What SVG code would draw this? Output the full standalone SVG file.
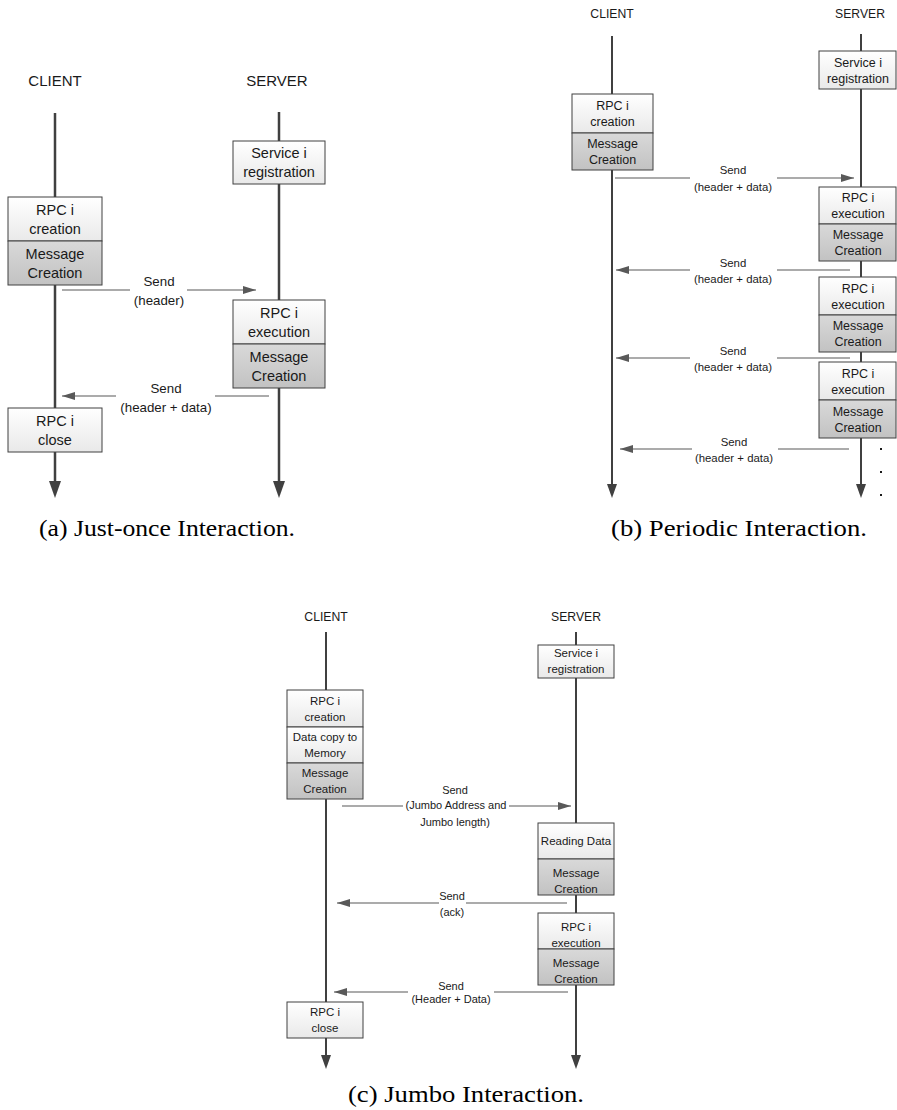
<svg xmlns="http://www.w3.org/2000/svg" width="897" height="1110" viewBox="0 0 897 1110">
<style>
text{font-family:"Liberation Sans",Arial,sans-serif;fill:#1a1a1a;text-anchor:middle}
.hd{font-size:15px}
.hd2{font-size:12.2px}
.ta{font-size:14.5px}
.tb{font-size:12.5px}
.tc{font-size:11.5px}
.la{font-size:13.3px}
.lb{font-size:11.4px}
.lc{font-size:11px}
.cap{font-family:"Liberation Serif","Times New Roman",serif;font-size:24px;fill:#000}
.box{fill:url(#gw);stroke:#404040;stroke-width:1}
.mbox{fill:url(#gg);stroke:#404040;stroke-width:1}
.life{stroke:#404040;stroke-width:2.5;fill:none}
.life2{stroke:#404040;stroke-width:2;fill:none}
.head{fill:#404040}
.msg{stroke:#595959;stroke-width:1.2;fill:none}
.msgh{stroke:#595959;stroke-width:1.2;fill:none;marker-end:url(#ah)}
</style>
<defs>
<linearGradient id="gw" x1="0" y1="0" x2="0" y2="1">
<stop offset="0" stop-color="#ffffff"/>
<stop offset="1" stop-color="#e9e9e9"/>
</linearGradient>
<linearGradient id="gg" x1="0" y1="0" x2="0" y2="1">
<stop offset="0" stop-color="#d9d9d9"/>
<stop offset="1" stop-color="#c2c2c2"/>
</linearGradient>
<marker id="ah" markerUnits="userSpaceOnUse" markerWidth="14" markerHeight="10" refX="13" refY="5" orient="auto">
<path d="M0,1 L13,5 L0,9 Z" fill="#595959"/>
</marker>
</defs>

<!-- ========== Panel (a) ========== -->
<g id="a-client-label"><text class="hd" x="55" y="86">CLIENT</text></g>
<g id="a-server-label"><text class="hd" x="277" y="86">SERVER</text></g>

<g id="a-connectors">
<line class="life" x1="55" y1="113" x2="55" y2="482"/>
<polygon class="head" points="49,481 61,481 55,498"/>
<line class="life" x1="279" y1="112" x2="279" y2="482"/>
<polygon class="head" points="273,481 285,481 279,498"/>
<line class="msg" x1="62" y1="290" x2="130" y2="290"/>
<line class="msgh" x1="187" y1="290" x2="256" y2="290"/>
<line class="msg" x1="269" y1="396" x2="215" y2="396"/>
<line class="msgh" x1="116" y1="396" x2="62" y2="396"/>
<text class="la" x="159" y="286">Send</text>
<text class="la" x="159" y="305">(header)</text>
<text class="la" x="166" y="393">Send</text>
<text class="la" x="166" y="412">(header + data)</text>
</g>

<g id="a-service">
<rect class="box" x="233" y="141" width="92" height="43"/>
<text class="ta" x="279" y="158">Service i</text>
<text class="ta" x="279" y="177">registration</text>
</g>
<g id="a-rpc-creation">
<rect class="box" x="8" y="197" width="94" height="44"/>
<text class="ta" x="55" y="214.5">RPC i</text>
<text class="ta" x="55" y="233.5">creation</text>
</g>
<g id="a-client-msg">
<rect class="mbox" x="8" y="241" width="94" height="44"/>
<text class="ta" x="55" y="258.5">Message</text>
<text class="ta" x="55" y="277.5">Creation</text>
</g>
<g id="a-rpc-exec">
<rect class="box" x="233" y="300" width="92" height="44"/>
<text class="ta" x="279" y="317.5">RPC i</text>
<text class="ta" x="279" y="336.5">execution</text>
</g>
<g id="a-server-msg">
<rect class="mbox" x="233" y="344" width="92" height="44"/>
<text class="ta" x="279" y="361.5">Message</text>
<text class="ta" x="279" y="380.5">Creation</text>
</g>
<g id="a-rpc-close">
<rect class="box" x="8" y="408" width="94" height="44"/>
<text class="ta" x="55" y="425.5">RPC i</text>
<text class="ta" x="55" y="444.5">close</text>
</g>
<g id="a-caption"><text class="cap" x="167" y="536" textLength="256" lengthAdjust="spacingAndGlyphs">(a) Just-once Interaction.</text></g>

<!-- ========== Panel (b) ========== -->
<g id="b-client-label"><text class="hd2" x="612" y="18">CLIENT</text></g>
<g id="b-server-label"><text class="hd2" x="860" y="18">SERVER</text></g>

<g id="b-connectors">
<line class="life2" x1="612" y1="36" x2="612" y2="485"/>
<polygon class="head" points="607,484 617,484 612,498"/>
<line class="life2" x1="861" y1="34" x2="861" y2="485"/>
<polygon class="head" points="856,484 866,484 861,498"/>
<line class="msg" x1="615" y1="178" x2="690" y2="178"/>
<line class="msgh" x1="777" y1="178" x2="854" y2="178"/>
<line class="msg" x1="850" y1="270" x2="777" y2="270"/>
<line class="msgh" x1="690" y1="270" x2="616" y2="270"/>
<line class="msg" x1="850" y1="358" x2="777" y2="358"/>
<line class="msgh" x1="690" y1="358" x2="616" y2="358"/>
<line class="msg" x1="849" y1="449" x2="778" y2="449"/>
<line class="msgh" x1="692" y1="449" x2="620" y2="449"/>
<text class="lb" x="733" y="174">Send</text>
<text class="lb" x="733" y="191">(header + data)</text>
<text class="lb" x="733" y="267">Send</text>
<text class="lb" x="733" y="283">(header + data)</text>
<text class="lb" x="733" y="355">Send</text>
<text class="lb" x="733" y="371">(header + data)</text>
<text class="lb" x="734" y="446">Send</text>
<text class="lb" x="734" y="462">(header + data)</text>
</g>

<g id="b-service">
<rect class="box" x="819" y="51" width="77" height="38"/>
<text class="tb" x="858" y="66.5">Service i</text>
<text class="tb" x="858" y="82.5">registration</text>
</g>
<g id="b-rpc-creation">
<rect class="box" x="572" y="94" width="81" height="39"/>
<text class="tb" x="612.5" y="110">RPC i</text>
<text class="tb" x="612.5" y="126">creation</text>
</g>
<g id="b-client-msg">
<rect class="mbox" x="572" y="133" width="81" height="37"/>
<text class="tb" x="612.5" y="148">Message</text>
<text class="tb" x="612.5" y="164">Creation</text>
</g>
<g id="b-exec-1">
<rect class="box" x="819" y="187" width="77" height="37"/>
<text class="tb" x="858" y="202">RPC i</text>
<text class="tb" x="858" y="218">execution</text>
</g>
<g id="b-msg-1">
<rect class="mbox" x="819" y="224" width="77" height="37"/>
<text class="tb" x="858" y="239">Message</text>
<text class="tb" x="858" y="255">Creation</text>
</g>
<g id="b-exec-2">
<rect class="box" x="819" y="277" width="77" height="38"/>
<text class="tb" x="858" y="292.5">RPC i</text>
<text class="tb" x="858" y="308.5">execution</text>
</g>
<g id="b-msg-2">
<rect class="mbox" x="819" y="315" width="77" height="37"/>
<text class="tb" x="858" y="330">Message</text>
<text class="tb" x="858" y="346">Creation</text>
</g>
<g id="b-exec-3">
<rect class="box" x="819" y="362" width="77" height="38"/>
<text class="tb" x="858" y="377.5">RPC i</text>
<text class="tb" x="858" y="393.5">execution</text>
</g>
<g id="b-msg-3">
<rect class="mbox" x="819" y="400" width="77" height="38"/>
<text class="tb" x="858" y="415.5">Message</text>
<text class="tb" x="858" y="431.5">Creation</text>
</g>
<g id="b-dots">
<rect x="880" y="448" width="2" height="2" fill="#1a1a1a"/>
<rect x="880" y="471" width="2" height="2" fill="#1a1a1a"/>
<rect x="880" y="494" width="2" height="2" fill="#1a1a1a"/>
</g>
<g id="b-caption"><text class="cap" x="739" y="536" textLength="256" lengthAdjust="spacingAndGlyphs">(b) Periodic Interaction.</text></g>

<!-- ========== Panel (c) ========== -->
<g id="c-client-label"><text class="hd2" x="326" y="621">CLIENT</text></g>
<g id="c-server-label"><text class="hd2" x="576" y="621">SERVER</text></g>

<g id="c-connectors">
<line class="life2" x1="326" y1="632" x2="326" y2="1056"/>
<polygon class="head" points="321,1055 331,1055 326,1069"/>
<line class="life2" x1="576" y1="632" x2="576" y2="1056"/>
<polygon class="head" points="571,1055 581,1055 576,1069"/>
<line class="msg" x1="342" y1="806" x2="403" y2="806"/>
<line class="msgh" x1="509" y1="806" x2="571" y2="806"/>
<line class="msg" x1="567" y1="903" x2="466" y2="903"/>
<line class="msgh" x1="439" y1="903" x2="337" y2="903"/>
<line class="msg" x1="568" y1="992" x2="494" y2="992"/>
<line class="msgh" x1="408" y1="992" x2="334" y2="992"/>
<text class="lc" x="455" y="794">Send</text>
<text class="lc" x="456" y="809">(Jumbo Address and</text>
<text class="lc" x="455" y="826">Jumbo length)</text>
<text class="lc" x="452" y="900">Send</text>
<text class="lc" x="452" y="915.5">(ack)</text>
<text class="lc" x="451" y="989.5">Send</text>
<text class="lc" x="451" y="1003">(Header + Data)</text>
</g>

<g id="c-service">
<rect class="box" x="538" y="645" width="76" height="33"/>
<text class="tc" x="576" y="657">Service i</text>
<text class="tc" x="576" y="673">registration</text>
</g>
<g id="c-rpc-creation">
<rect class="box" x="287" y="690" width="76" height="37"/>
<text class="tc" x="325" y="704.5">RPC i</text>
<text class="tc" x="325" y="720.5">creation</text>
</g>
<g id="c-data-copy">
<rect class="box" x="287" y="727" width="76" height="36"/>
<text class="tc" x="325" y="741">Data copy to</text>
<text class="tc" x="325" y="757">Memory</text>
</g>
<g id="c-client-msg">
<rect class="mbox" x="287" y="763" width="76" height="36"/>
<text class="tc" x="325" y="777">Message</text>
<text class="tc" x="325" y="793">Creation</text>
</g>
<g id="c-reading">
<rect class="box" x="538" y="823" width="76" height="36"/>
<text class="tc" x="576" y="845">Reading Data</text>
</g>
<g id="c-server-msg-1">
<rect class="mbox" x="538" y="859" width="76" height="36"/>
<text class="tc" x="576" y="877">Message</text>
<text class="tc" x="576" y="893">Creation</text>
</g>
<g id="c-rpc-exec">
<rect class="box" x="538" y="913" width="76" height="36"/>
<text class="tc" x="576" y="931">RPC i</text>
<text class="tc" x="576" y="947">execution</text>
</g>
<g id="c-server-msg-2">
<rect class="mbox" x="538" y="949" width="76" height="36"/>
<text class="tc" x="576" y="967">Message</text>
<text class="tc" x="576" y="983">Creation</text>
</g>
<g id="c-rpc-close">
<rect class="box" x="287" y="1002" width="76" height="36"/>
<text class="tc" x="325" y="1016">RPC i</text>
<text class="tc" x="325" y="1032">close</text>
</g>
<g id="c-caption"><text class="cap" x="466" y="1102" textLength="236" lengthAdjust="spacingAndGlyphs">(c) Jumbo Interaction.</text></g>
</svg>
